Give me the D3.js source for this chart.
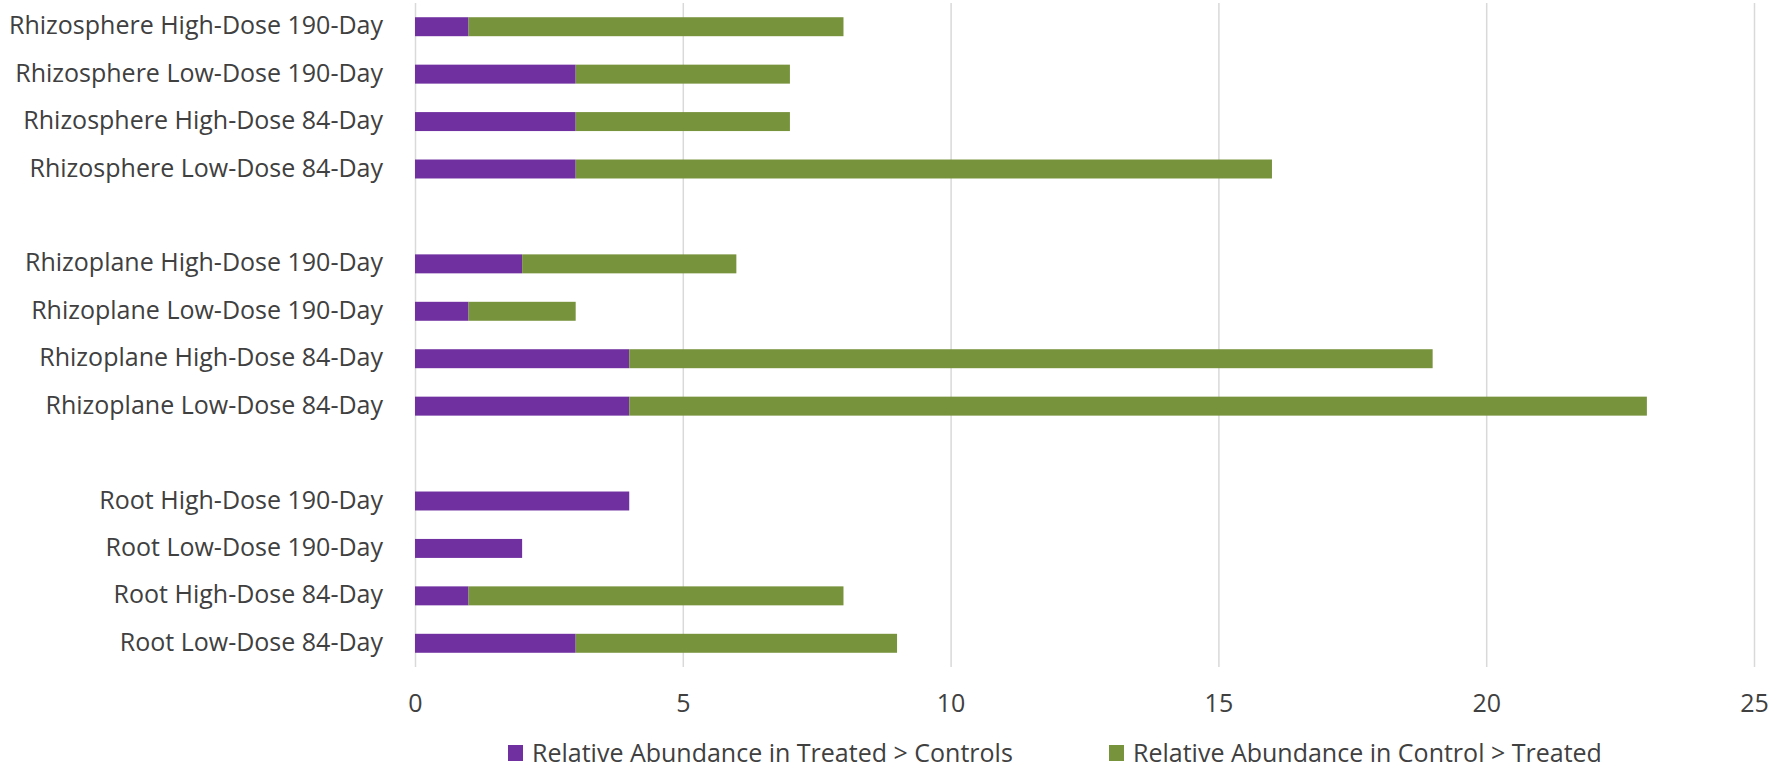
<!doctype html>
<html>
<head>
<style>
  body {
    margin: 0;
    background-color: white;
  }

  svg {
    display: block;
  }

  svg text {
    font-family: "Open Sans", sans-serif;
    fill: #404040;
    font-size: 25px;
  }

  .grid line {
    stroke: #d9d9d9;
    stroke-width: 1.5px;
  }
</style>
<script src="https://d3js.org/d3.v7.min.js"></script>
</head>
<body>
<script>

  // rows top to bottom, "" is an empty slot between groups
  var categories = [
    "Rhizosphere High-Dose 190-Day",
    "Rhizosphere Low-Dose 190-Day",
    "Rhizosphere High-Dose 84-Day",
    "Rhizosphere Low-Dose 84-Day",
    "",
    "Rhizoplane High-Dose 190-Day",
    "Rhizoplane Low-Dose 190-Day",
    "Rhizoplane High-Dose 84-Day",
    "Rhizoplane Low-Dose 84-Day",
    "",
    "Root High-Dose 190-Day",
    "Root Low-Dose 190-Day",
    "Root High-Dose 84-Day",
    "Root Low-Dose 84-Day"
  ];
  var treatedHigher = [1, 3, 3, 3, 0, 2, 1, 4, 4, 0, 4, 2, 1, 3];
  var controlHigher = [7, 4, 4, 13, 0, 4, 2, 15, 19, 0, 0, 0, 7, 6];
  var seriesNames = ["Relative Abundance in Treated > Controls", "Relative Abundance in Control > Treated"];
  var seriesColors = ["#7030a0", "#77933c"];
  var xTicks = [0, 5, 10, 15, 20, 25];

  var svg_width = 1770;
  var svg_height = 769;
  var plotLeft = 415, plotRight = 1754, plotTop = 3, plotBottom = 667;

  var svg = d3.select("body")
              .append("svg")
              .attr("width", svg_width)
              .attr("height", svg_height);

  var xScale = d3.scaleLinear().domain([0, 25]).range([plotLeft, plotRight]);
  var yScale = d3.scaleBand()
                 .domain(d3.range(categories.length))
                 .range([plotTop, plotBottom])
                 .paddingInner(0.6)
                 .paddingOuter(0.3);

  var rows = categories.map(function(c, i) {
    return { idx: i, treated: treatedHigher[i], control: controlHigher[i] };
  });

  var stack = d3.stack().keys(["treated", "control"]);
  var layers = stack(rows);

  // gridlines + tick labels
  var xAxis = svg.append("g")
    .attr("class", "grid")
    .attr("transform", "translate(0," + plotBottom + ")")
    .call(d3.axisBottom(xScale)
            .tickValues(xTicks)
            .tickSize(-(plotBottom - plotTop))
            .tickPadding(27));
  xAxis.select(".domain").remove();

  // category labels
  var yAxis = svg.append("g")
    .attr("transform", "translate(" + plotLeft + ",0)")
    .call(d3.axisLeft(yScale)
            .tickSize(0)
            .tickPadding(32)
            .tickFormat(function(i) { return categories[i]; }));
  yAxis.select(".domain").remove();
  yAxis.selectAll(".tick text").attr("dy", "0.3em");

  svg.append("g")
    .selectAll("g")
    .data(layers)
    .enter().append("g")
    .attr("fill", function(d, i) { return seriesColors[i]; })
    .selectAll("rect")
    .data(function(d) { return d.filter(function(p) { return p[1] > p[0]; }); })
    .enter().append("rect")
    .attr("x", function(d) { return xScale(d[0]); })
    .attr("y", function(d) { return yScale(d.data.idx); })
    .attr("width", function(d) { return xScale(d[1]) - xScale(d[0]); })
    .attr("height", yScale.bandwidth());

  // legend
  var legendX = [508, 1109];
  var legend = svg.append("g")
    .attr("class", "legend")
    .selectAll("g")
    .data(seriesNames)
    .enter().append("g")
    .attr("transform", function(d, i) { return "translate(" + legendX[i] + ",745)"; });

  legend.append("rect")
    .attr("width", 15)
    .attr("height", 16)
    .attr("fill", function(d, i) { return seriesColors[i]; });

  legend.append("text")
    .attr("x", 24)
    .attr("y", 8)
    .attr("dy", "0.35em")
    .text(function(d) { return d; });

</script>
</body>
</html>
